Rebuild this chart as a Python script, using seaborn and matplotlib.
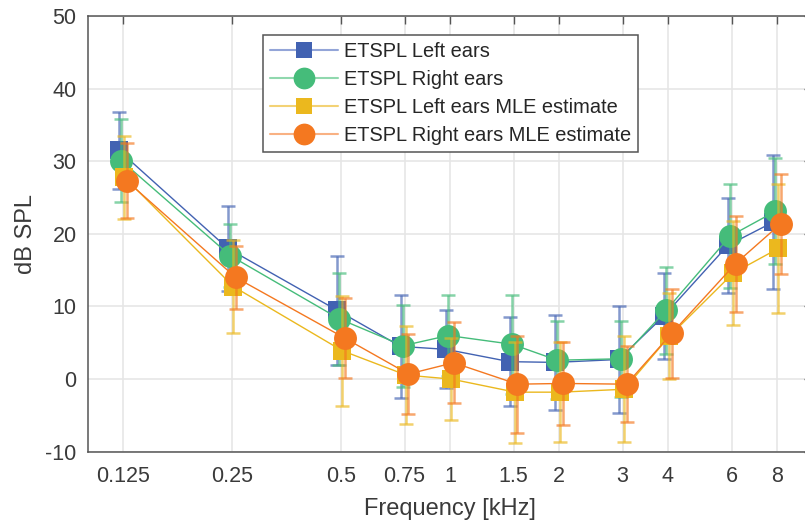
import numpy as np
import pandas as pd
import seaborn as sns
import matplotlib.pyplot as plt
from matplotlib.lines import Line2D
from matplotlib.ticker import FixedLocator, FixedFormatter, NullLocator

# frequencies in kHz
freqs = [0.125, 0.25, 0.5, 0.75, 1, 1.5, 2, 3, 4, 6, 8]
freq_labels = ['0.125', '0.25', '0.5', '0.75', '1', '1.5', '2', '3', '4', '6', '8']

# ETSPL values (dB SPL) and error bar half-widths
left_mean = [31.5, 18.0, 9.5, 4.5, 4.1, 2.4, 2.3, 2.7, 8.7, 18.4, 21.6]
left_err = [5.3, 5.85, 7.5, 7.1, 5.35, 6.1, 6.5, 7.4, 5.9, 6.6, 9.2]
right_mean = [30.1, 17.0, 8.3, 4.6, 6.0, 4.8, 2.6, 2.8, 9.5, 19.7, 23.1]
right_err = [5.75, 4.3, 6.35, 5.65, 5.55, 6.8, 5.4, 5.2, 6.0, 7.1, 7.3]
left_mle = [27.8, 12.75, 3.9, 0.55, 0.0, -1.8, -1.8, -1.4, 5.9, 14.6, 18.0]
left_mle_err = [5.7, 6.4, 7.55, 6.75, 5.6, 6.95, 6.85, 7.3, 5.9, 7.2, 8.9]
right_mle = [27.3, 14.0, 5.65, 0.7, 2.25, -0.7, -0.6, -0.7, 6.3, 15.9, 21.4]
right_mle_err = [5.15, 4.3, 5.5, 5.45, 5.55, 6.7, 5.75, 5.2, 6.1, 6.6, 6.9]

names = ['ETSPL Left ears', 'ETSPL Right ears',
         'ETSPL Left ears MLE estimate', 'ETSPL Right ears MLE estimate']
means = [left_mean, right_mean, left_mle, right_mle]
errs = [left_err, right_err, left_mle_err, right_mle_err]
colors = ['#4262B2', '#45BC7A', '#EBB81E', '#F47820']
light = ['#93A5D8', '#90D8AE', '#F3D275', '#F9B183']
markers = ['s', 'o', 's', 'o']
msizes = [12.5, 16.5, 12.5, 16.5]
shift = [0.975, 0.99, 1.01, 1.025]  # small horizontal dodge on the log axis

sns.set_theme(style='white')
plt.rcParams['font.family'] = ['Liberation Sans', 'DejaVu Sans']
plt.rcParams['axes.unicode_minus'] = False

fig = plt.figure(figsize=(8.05, 5.25), dpi=100)
ax = fig.add_axes([0.1089, 0.1396, 0.8998, 0.8299])

for i in range(4):
    df = pd.DataFrame({'f': np.array(freqs) * shift[i], 'v': means[i]})
    ax.errorbar(df['f'], df['v'], yerr=errs[i], fmt='none', ecolor=colors[i],
                elinewidth=1.8, capsize=5, capthick=1.8, alpha=0.65, zorder=3 + i)
    sns.lineplot(data=df, x='f', y='v', ax=ax, color=colors[i], lw=1.0,
                 marker=markers[i], markersize=msizes[i], markeredgewidth=0,
                 legend=False, zorder=3.5 + i)

ax.set_xscale('log')
ax.set_xlim(0.1, 10)
ax.set_ylim(-10, 50)
ax.xaxis.set_major_locator(FixedLocator(freqs))
ax.xaxis.set_major_formatter(FixedFormatter(freq_labels))
ax.xaxis.set_minor_locator(NullLocator())
ax.set_yticks(range(-10, 51, 10))

ax.grid(True, color='#E6E6E6', lw=1.2)
ax.set_axisbelow(True)
for s in ax.spines.values():
    s.set_color('#555555')
    s.set_linewidth(1.1)
ax.tick_params(which='major', direction='in', length=5.5, width=1.0,
               color='#555555', labelcolor='#3A3A3A', labelsize=15.5,
               top=True, right=True, pad=8)
ax.tick_params(axis='x', pad=10)

ax.set_xlabel('Frequency [kHz]', fontsize=17, color='#3A3A3A', labelpad=8)
ax.set_ylabel('dB SPL', fontsize=17, color='#3A3A3A', labelpad=6)

handles = [Line2D([], [], color=light[i], lw=1.5, marker=markers[i],
                  markerfacecolor=colors[i], markeredgewidth=0,
                  markersize=msizes[i] * 0.95) for i in range(4)]
leg = ax.legend(handles, names, loc='upper left', bbox_to_anchor=(0.2416, 0.9564),
                borderaxespad=0, fontsize=14.4, handlelength=3.4, handletextpad=0.3,
                labelspacing=0.45, borderpad=0.35, fancybox=False, framealpha=1,
                edgecolor='#555555')
leg.get_frame().set_linewidth(1.1)
for t in leg.get_texts():
    t.set_color('#262626')

fig.savefig('out.png', dpi=100)
